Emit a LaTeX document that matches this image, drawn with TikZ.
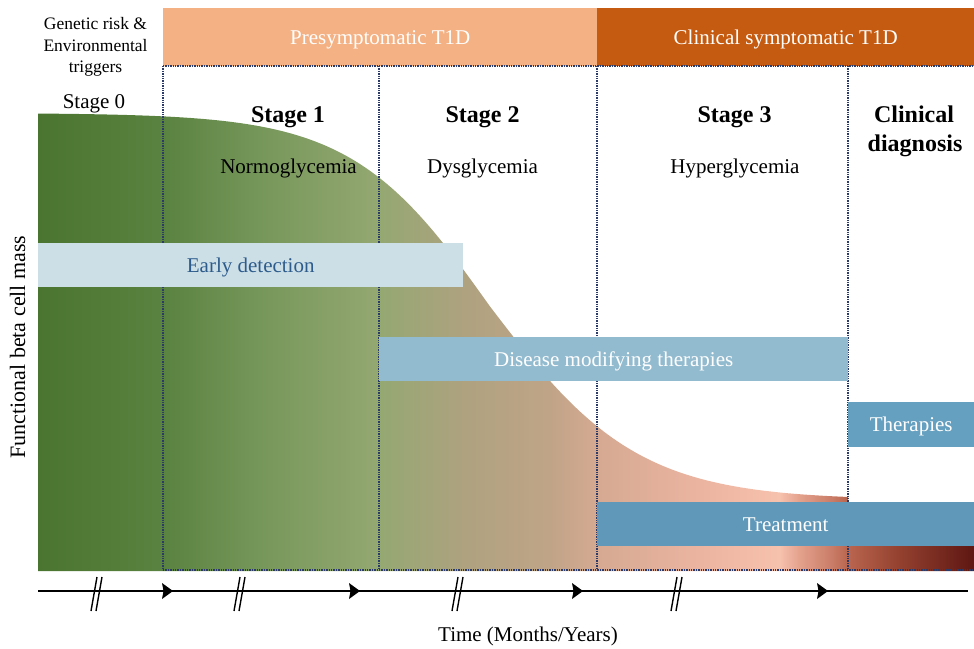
\documentclass[tikz,border=0pt]{standalone}
\usepackage{fontspec}
\setmainfont{Liberation Serif}
\definecolor{presym}{HTML}{F4B183}
\definecolor{clinsym}{HTML}{C55A11}
\definecolor{dotcol}{HTML}{2B3A67}
\definecolor{edbox}{HTML}{CCDEE6}
\definecolor{edtext}{HTML}{2D5C8C}
\definecolor{dmbox}{HTML}{93BBCF}
\definecolor{thbox}{HTML}{66A0C0}
\definecolor{trbox}{HTML}{5F98B8}
\definecolor{s01}{HTML}{4A7530}
\definecolor{s02}{HTML}{5A8240}
\definecolor{s03}{HTML}{76975A}
\definecolor{s04}{HTML}{94A872}
\definecolor{s05}{HTML}{AEA27F}
\definecolor{s06}{HTML}{C0A488}
\definecolor{s07}{HTML}{D5A992}
\definecolor{s08}{HTML}{EBB4A1}
\definecolor{s09}{HTML}{F6C1AD}
\definecolor{s10}{HTML}{E3A08B}
\definecolor{s11}{HTML}{CB7F6A}
\definecolor{s12}{HTML}{B9654F}
\definecolor{s13}{HTML}{93402F}
\definecolor{s14}{HTML}{5E1712}
% x -> bp : 25 + (x-38)*0.053419
\pgfdeclarehorizontalshading{betafill}{100bp}{%
color(0bp)=(s01); color(25bp)=(s01); color(31.68bp)=(s02); color(36.86bp)=(s03);
color(43.22bp)=(s04); color(47.70bp)=(s05); color(52.35bp)=(s06); color(54.86bp)=(s07);
color(60.36bp)=(s08); color(64.63bp)=(s09); color(65.70bp)=(s10); color(67.30bp)=(s11);
color(68.27bp)=(s12); color(71.05bp)=(s13); color(75bp)=(s14); color(100bp)=(s14)}
\begin{document}
\begin{tikzpicture}[x=1pt,y=-1pt,
  txt/.style={font=\fontsize{21}{25}\selectfont, inner sep=0pt, anchor=base},
  smalltxt/.style={font=\fontsize{17.5}{21}\selectfont, inner sep=0pt, anchor=base},
  stagetxt/.style={font=\fontsize{24}{28}\selectfont\bfseries, inner sep=0pt, anchor=base},
  bandbox/.style={font=\fontsize{21}{25}\selectfont, inner sep=0pt, anchor=north west,
     text height=14pt, text depth=0pt},
  dotline/.style={dotcol, densely dotted, line width=1.4pt},
  axisline/.style={black, line width=1.8pt},
  breakmark/.style={black, line width=1.4pt},
]
\useasboundingbox (0,0) rectangle (974,648);

% beta cell mass curve (two-sided logistic decline)
\shade[shading=betafill] (38,571)
  -- plot[domain=38:490, samples=120, variable=\x] ({\x},{113+387/(1+exp(-(\x-490)/69))})
  -- plot[domain=490:848, samples=100, variable=\x] ({\x},{113+387/(1+exp(-(\x-490)/74))})
  -- (848,502) -- (974,502) -- (974,571) -- cycle;

% top bands
\node[bandbox, fill=presym, text=white, minimum width=434pt, minimum height=58pt] (pre) at (163,8) {Presymptomatic T1D};
\node[bandbox, fill=clinsym, text=white, minimum width=377pt, minimum height=58pt] (clin) at (597,8) {Clinical symptomatic T1D};

% dotted frame
\draw[dotline] (163,66) -- (974,66);
\draw[dotline] (163,570) -- (974,570);
\foreach \xx in {163,379,597,848} \draw[dotline] (\xx,66) -- (\xx,570);

% boxes
\node[bandbox, fill=edbox, text=edtext, minimum width=425pt, minimum height=44pt] (ed) at (38,243) {Early detection};
\node[bandbox, fill=dmbox, text=white, minimum width=469pt, minimum height=44pt] (dm) at (379,337) {Disease modifying therapies};
\node[bandbox, fill=thbox, text=white, minimum width=126pt, minimum height=45pt] (th) at (848,402) {Therapies};
\node[bandbox, fill=trbox, text=white, minimum width=377pt, minimum height=44pt] (tr) at (597,502) {Treatment};

% left texts
\node[smalltxt] (g1) at (95.5,29) {Genetic risk \&};
\node[smalltxt] (g2) at (95.5,51) {Environmental};
\node[smalltxt] (g3) at (95.5,72) {triggers};
\node[txt] (s0) at (94,108) {Stage 0};

% stage headings
\node[stagetxt] (s1) at (288,122) {Stage 1};
\node[stagetxt] (s2) at (482.5,122) {Stage 2};
\node[stagetxt] (s3) at (734.5,122) {Stage 3};
\node[stagetxt] (cd1) at (914,122) {Clinical};
\node[stagetxt] (cd2) at (915,151) {diagnosis};
\node[txt] (n1) at (288.5,173) {Normoglycemia};
\node[txt] (n2) at (482.5,173) {Dysglycemia};
\node[txt] (n3) at (735,173) {Hyperglycemia};

% y axis label
\node[font=\fontsize{22}{26}\selectfont, inner sep=0pt, anchor=base, rotate=90] (ylab) at (25,347) {Functional beta cell mass};

% time axis
\coordinate (ax0) at (38,591);
\coordinate (ax1) at (968,591);
\draw[axisline] (ax0) -- (ax1);
\foreach \c in {97,240,458,677} {
  \draw[breakmark] (\c-6,611) -- (\c,577);
  \draw[breakmark] (\c-1,611) -- (\c+5,577);
}
\foreach \t in {173,360,583,828} {
  \fill[black] (\t-11,583) -- (\t,591) -- (\t-11,599) -- (\t-9.5,591) -- cycle;
}
\node[txt] (tl) at (528,641) {Time (Months/Years)};
\end{tikzpicture}
\end{document}
